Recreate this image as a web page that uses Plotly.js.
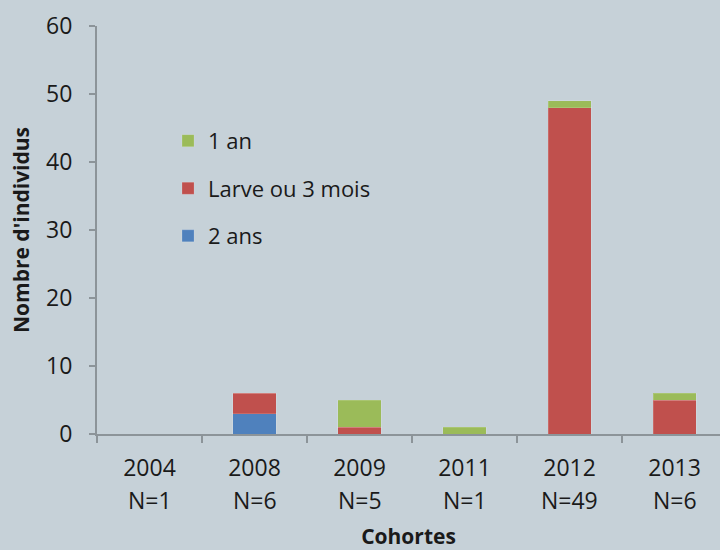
<!DOCTYPE html>
<html>
<head>
<meta charset="utf-8">
<script src="https://cdn.plot.ly/plotly-3.0.1.min.js"></script>
<style>html,body{margin:0;padding:0;background:#c6d1d8;}</style>
</head>
<body>
<div id="chart" style="width:720px;height:550px;"></div>
<script>
const cohorts = ["2004", "2008", "2009", "2011", "2012", "2013"];
const counts = ["N=1", "N=6", "N=5", "N=1", "N=49", "N=6"];
const deuxAns = [0, 3, 0, 0, 0, 0];
const larve = [0, 3, 1, 0, 48, 5];
const unAn = [0, 0, 4, 1, 1, 1];
const seriesNames = ["2 ans", "Larve ou 3 mois", "1 an"];
const seriesColors = ["#4f81bd", "#c0504d", "#9bbb59"];
const seriesValues = [deuxAns, larve, unAn];
const legendRanks = [3, 2, 1];

const font = "'Open Sans', Lato, sans-serif";
const textColor = "#1a1a1a";

const traces = seriesValues.map((vals, i) => ({
  type: "bar",
  x: cohorts,
  y: vals,
  name: seriesNames[i],
  legendgroup: "g" + i,
  legendrank: legendRanks[i],
  marker: { color: seriesColors[i], line: { width: 1, color: "rgba(255,255,255,0.15)" } },
  hoverinfo: "x+y+name"
}));

const annotations = counts.map((c, i) => ({
  x: i, xref: "x", y: -0.162, yref: "paper",
  text: c, showarrow: false,
  font: { family: font, size: 23, color: textColor },
  xanchor: "center", yanchor: "middle"
}));

const layout = {
  width: 720, height: 550,
  paper_bgcolor: "#c6d1d8",
  plot_bgcolor: "#c6d1d8",
  margin: { l: 97, r: 0, t: 26, b: 116 },
  barmode: "stack",
  bargap: 0.59,
  font: { family: font, color: textColor },
  showlegend: true,
  legend: {
    x: 0.114, y: 0.77, xanchor: "left", yanchor: "top",
    traceorder: "grouped",
    tracegroupgap: 16,
    bgcolor: "rgba(0,0,0,0)",
    font: { family: font, size: 22, color: textColor }
  },
  xaxis: {
    type: "category",
    range: [-0.5, 5.433],
    tickson: "boundaries",
    ticks: "outside", ticklen: 7, tickcolor: "#8c9499", tickwidth: 2,
    showline: true, linecolor: "#8c9499", linewidth: 2,
    showgrid: false, zeroline: false,
    ticklabelstandoff: 12,
    tickfont: { family: font, size: 23, color: textColor },
    title: { text: "<b>Cohortes</b>", standoff: 55, font: { family: font, size: 21, color: textColor } }
  },
  yaxis: {
    range: [0, 60], dtick: 10,
    ticks: "outside", ticklen: 6, tickcolor: "#8c9499", tickwidth: 2,
    showline: true, linecolor: "#8c9499", linewidth: 2,
    showgrid: false, zeroline: false,
    ticklabelstandoff: 12,
    tickfont: { family: font, size: 23, color: textColor },
    title: { text: "<b>Nombre d'individus</b>", standoff: 11, font: { family: font, size: 21, color: textColor } }
  },
  annotations: annotations
};

Plotly.newPlot("chart", traces, layout, { displayModeBar: false, staticPlot: true });
</script>
</body>
</html>
